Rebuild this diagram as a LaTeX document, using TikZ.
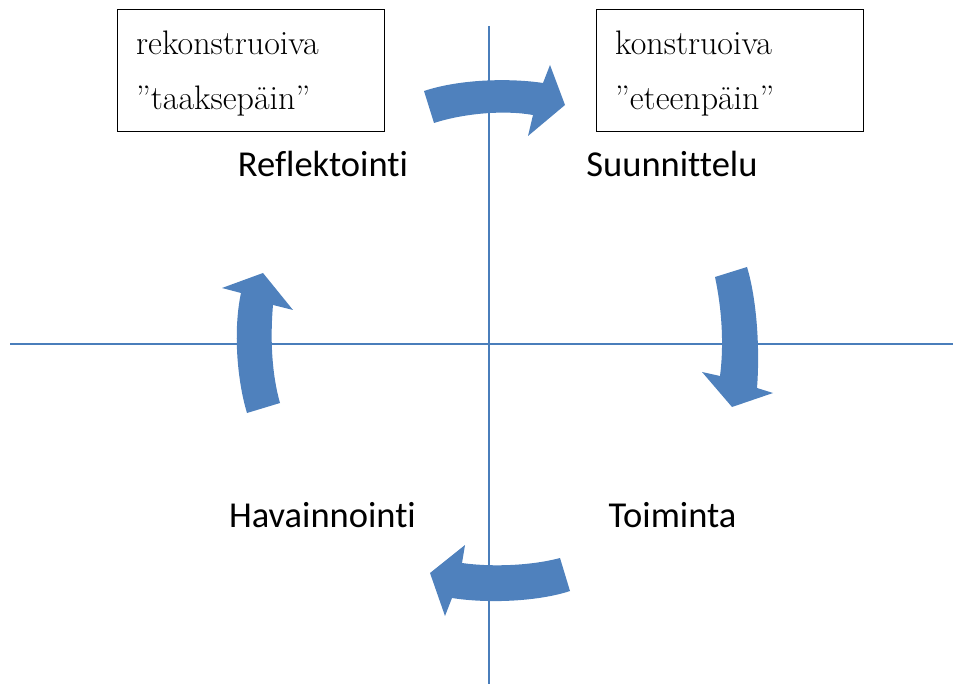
\documentclass[tikz,border=0pt]{standalone}
\usepackage{fontspec}
\newfontfamily\labelfont[Ligatures=CommonOff]{Carlito}
\begin{document}
\begin{tikzpicture}[x=1pt,y=-1pt,
  axis/.style={draw=axisblue,line width=2pt},
  cyclearrow/.style={fill=arrowblue,draw=none},
  notebox/.style={draw=black,line width=1pt,minimum width=267pt,minimum height=122pt,inner sep=0pt},
  notetext/.style={anchor=base west,inner sep=0pt,font=\fontsize{34}{40}\selectfont},
  phase/.style={anchor=base,inner sep=0pt,font=\labelfont\fontsize{36.5}{44}\selectfont}]
\definecolor{axisblue}{HTML}{4A7EBB}
\definecolor{arrowblue}{HTML}{4F81BD}
\useasboundingbox (0,0) rectangle (953,684);

% axes
\coordinate (xl) at (10,344);
\coordinate (xr) at (953,344);
\coordinate (yt) at (488.5,26);
\coordinate (yb) at (488.5,684);
\draw[axis] (xl) -- (xr);
\draw[axis] (yt) -- (yb);

% note boxes
\node[notebox] (back) at (250.5,71) {};
\node[notebox] (fwd) at (730,71) {};
\node[notetext] (backA) at (136,55) {rekonstruoiva};
\node[notetext] (backB) at (136,110) {”taaksepäin”};
\node[notetext] (fwdA) at (615,55) {konstruoiva};
\node[notetext] (fwdB) at (615,110) {”eteenpäin”};

% phase labels
\node[phase] (refl) at (323,177) {Reflektointi};
\node[phase] (plan) at (672,177) {Suunnittelu};
\node[phase] (obs) at (322.5,527) {Havainnointi};
\node[phase] (act) at (672.5,527) {Toiminta};

% curved arrows of the cycle
\fill[cyclearrow] (424,91) .. controls (460,79) and (510,78) .. (543,83)
  -- (550,65) -- (565,105) -- (528,136) -- (533,115)
  .. controls (505,110) and (465,113) .. (434,123) -- cycle;
\fill[cyclearrow] (715,277) -- (747,267) .. controls (757,300) and (760,350) .. (757,388)
  -- (773,393) -- (732,407) -- (702,372) -- (720,376)
  .. controls (724,345) and (722,310) .. (715,277) -- cycle;
\fill[cyclearrow] (560,558) -- (570,591) .. controls (540,601) and (490,604) .. (452,598)
  -- (445,616) -- (430,573) -- (465,545) -- (462,563)
  .. controls (490,567) and (530,566) .. (560,558) -- cycle;
\fill[cyclearrow] (247,413) .. controls (237,380) and (233,330) .. (241,293)
  -- (222,288) -- (263,273) -- (293,310) -- (273,305)
  .. controls (270,340) and (272,375) .. (280,403) -- cycle;
\end{tikzpicture}
\end{document}
